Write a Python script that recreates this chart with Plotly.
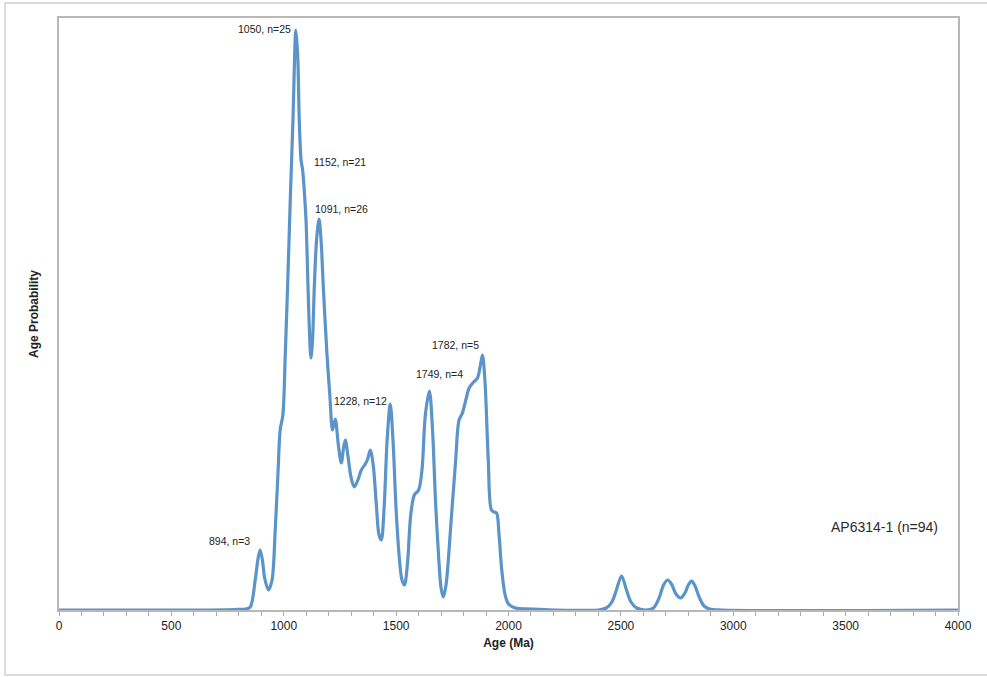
import plotly.graph_objects as go

# Age (Ma) and relative age-probability
ages = [0, 600, 780, 830, 851, 873, 886, 895, 905, 915, 932, 948, 962, 975, 984, 996,
        1007, 1018, 1029, 1041, 1054, 1062, 1069, 1077, 1084, 1091, 1099, 1108, 1115, 1121,
        1128, 1136, 1146, 1157, 1166, 1176, 1192, 1205, 1217, 1229, 1243, 1256, 1266, 1274,
        1285, 1300, 1314, 1330, 1345, 1360, 1372, 1385, 1398, 1412, 1424, 1434, 1446, 1460,
        1474, 1486, 1500, 1515, 1526, 1537, 1550, 1565, 1581, 1600, 1615, 1630, 1648, 1662,
        1675, 1690, 1700, 1710, 1722, 1745, 1765, 1780, 1795, 1810, 1825, 1845, 1862, 1875,
        1884, 1895, 1910, 1924, 1936, 1947, 1958, 1970, 1985, 2000, 2030, 2100, 2200, 2400,
        2435, 2460, 2480, 2503, 2525, 2545, 2570, 2610, 2645, 2670, 2690, 2708, 2725, 2745,
        2766, 2785, 2800, 2815, 2830, 2850, 2870, 2895, 2950, 4000]
prob = [0, 0, 0.5, 1, 3, 30, 52, 60, 50, 32, 20, 30, 80, 140, 180, 195,
        257, 330, 410, 490, 580, 555, 490, 450, 440, 420, 390, 323, 275, 252,
        270, 323, 370, 391, 370, 323, 257, 215, 180, 191, 165, 147, 162, 170,
        155, 132, 123, 130, 140, 145, 150, 160, 145, 105, 75, 70, 100, 170,
        206, 170, 100, 50, 30, 25, 45, 95, 115, 120, 140, 195, 219, 180,
        110, 50, 22, 13, 25, 90, 150, 190, 197, 210, 222, 228, 232, 245,
        255, 230, 150, 100, 98, 97, 75, 40, 15, 6, 2, 1, 0, 0,
        2, 8, 20, 34, 20, 8, 2, 0, 2, 12, 25, 30, 26, 16,
        12, 17, 25, 29, 24, 12, 4, 1, 0, 0]

peak_labels = ["1050, n=25", "1152, n=21", "1091, n=26", "1228, n=12",
               "1749, n=4", "1782, n=5", "894, n=3"]
label_x = [913, 1252, 1259, 1341, 1695, 1766, 757]
label_y = [581, 448, 401, 209, 236, 265, 69]

sample_label = "AP6314-1 (n=94)"
sample_x = 3675
sample_y = 83

x_ticks = [0, 500, 1000, 1500, 2000, 2500, 3000, 3500, 4000]

FONT = "Liberation Sans, Arial, sans-serif"

fig = go.Figure()
fig.add_trace(go.Scatter(
    x=ages, y=prob, mode="lines",
    line=dict(color="#5b94c8", width=3.2, shape="spline", smoothing=0.9),
    hoverinfo="x+y", showlegend=False))

for t, xx, yy in zip(peak_labels, label_x, label_y):
    fig.add_annotation(x=xx, y=yy, text=t, showarrow=False, xanchor="center",
                       yanchor="middle", font=dict(size=10.5, color="#222", family=FONT))
fig.add_annotation(x=sample_x, y=sample_y, text=sample_label, showarrow=False,
                   xanchor="center", yanchor="middle",
                   font=dict(size=14, color="#2a2a2a", family=FONT))

# outer chart frame
fig.add_shape(type="rect", xref="paper", yref="paper",
              x0=-0.0601, x1=1.06, y0=-0.1098, y1=1.0253,
              line=dict(color="#d0d0d0", width=1.5), layer="below")

fig.update_layout(
    width=987, height=677,
    margin=dict(l=59, r=29, t=18, b=67),
    paper_bgcolor="white", plot_bgcolor="white",
    font=dict(family=FONT, color="#222"),
    xaxis=dict(range=[0, 4000], tickvals=x_ticks, ticks="outside", ticklen=4,
               tickcolor="#a8a8a8", tickwidth=1,
               minor=dict(dtick=100, ticks="outside", ticklen=4, tickcolor="#a8a8a8"),
               showgrid=False, zeroline=False, showline=True, linecolor="#b8b8b8",
               linewidth=1.5, mirror=True, tickfont=dict(size=12, color="#222"),
               title=dict(text="<b>Age (Ma)</b>", font=dict(size=12, color="#222"),
                          standoff=6)),
    yaxis=dict(range=[0, 592], showticklabels=False, ticks="", showgrid=False,
               zeroline=False, showline=True, linecolor="#b8b8b8", linewidth=1.5,
               mirror=True,
               title=dict(text="<b>Age Probability</b>", font=dict(size=12, color="#222"),
                          standoff=16)),
)

fig.write_html("out.html")
